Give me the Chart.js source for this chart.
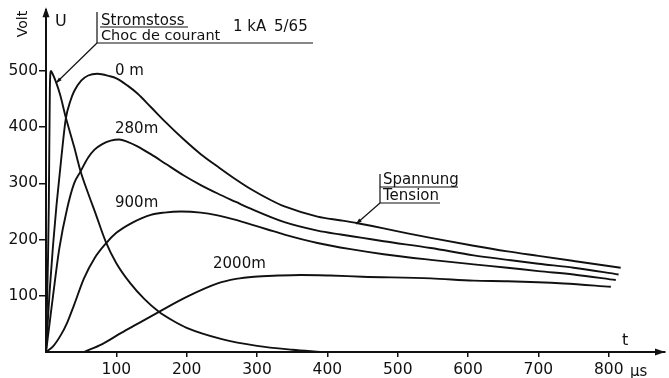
<!DOCTYPE html>
<html lang="de">
<head>
    <meta charset="UTF-8">
    <title>Stromstoss 1 kA 5/65</title>
    <script src="https://cdn.jsdelivr.net/npm/chart.js@4.4.1/dist/chart.umd.min.js"></script>
    <style>
        body {
            margin: 0;
            padding: 0;
            background-color: #ffffff;
        }
        #chartContainer {
            position: relative;
            width: 669px;
            height: 378px;
        }
    </style>
</head>
<body>
    <div id="chartContainer">
        <canvas id="waveChart"></canvas>
    </div>

    <script>
        // Tick values
        const xTickValues = [100, 200, 300, 400, 500, 600, 700, 800];
        const yTickValues = [100, 200, 300, 400, 500];

        // Current impulse (Stromstoss / Choc de courant)
        const currentT = [0, 4, 5.5, 7, 9, 14, 20, 28, 40, 49, 60, 70, 85, 100, 120, 140, 160, 180, 200, 250, 300, 350, 390];
        const currentV = [0, 260, 470, 500, 496, 481, 458, 418, 365, 322, 282, 248, 196, 158, 122, 94, 72, 56, 43, 23, 11, 4, 0];

        // Voltage at 0 m
        const v0T = [0, 5, 10, 15, 22, 28, 35, 40, 50, 60, 73, 90, 100, 116, 130, 149, 170, 196, 220, 244, 270, 291, 320, 339, 386, 420, 443, 480, 514, 547, 608, 656, 700, 750, 817];
        const v0V = [0, 105, 190, 262, 348, 414, 448, 464, 483, 492, 495, 491, 487, 474, 460, 436, 409, 378, 352, 330, 307, 290, 270, 259, 241, 234, 229, 220, 211, 203, 189, 179, 171, 162, 150];

        // Voltage at 280 m
        const v280T = [0, 5, 10, 19, 30, 40, 49, 60, 69, 80, 92, 104, 116, 130, 149, 170, 196, 220, 244, 270, 291, 339, 386, 419, 450, 480, 547, 608, 656, 700, 750, 814];
        const v280V = [0, 50, 100, 185, 255, 300, 321, 346, 360, 370, 376, 378, 374, 366, 352, 335, 314, 297, 282, 267, 255, 231, 216, 209, 203, 197, 185, 172, 164, 157, 150, 138];

        // Voltage at 900 m
        const v900T = [0, 10, 21, 30, 40, 54, 69, 85, 100, 121, 149, 168, 192, 220, 244, 267, 291, 315, 339, 386, 433, 480, 547, 608, 656, 700, 750, 810];
        const v900V = [0, 10, 30, 52, 84, 131, 167, 193, 212, 229, 244, 248, 250, 248, 243, 236, 227, 218, 209, 194, 183, 174, 164, 156, 150, 144, 138, 128];

        // Voltage at 2000 m
        const v2000T = [54, 80, 107, 130, 160, 200, 244, 270, 296, 330, 362, 404, 450, 547, 608, 656, 736, 803];
        const v2000V = [0, 14, 34, 50, 71, 98, 122, 130, 134, 136, 137, 136, 134, 131, 127, 126, 122, 116];

        const FONT = 'DejaVu Sans';

        function toPoints(ts, vs) {
            return ts.map((t, i) => ({ x: t, y: vs[i] }));
        }

        function curve(ts, vs) {
            return {
                data: toPoints(ts, vs),
                borderColor: '#111111',
                borderWidth: 1.9,
                pointRadius: 0,
                fill: false,
                cubicInterpolationMode: 'monotone'
            };
        }

        function arrowHead(ctx, x, y, angle, len, half) {
            ctx.save();
            ctx.translate(x, y);
            ctx.rotate(angle);
            ctx.beginPath();
            ctx.moveTo(0, 0);
            ctx.lineTo(-len, -half);
            ctx.lineTo(-len, half);
            ctx.closePath();
            ctx.fill();
            ctx.restore();
        }

        function leader(ctx, x1, y1, x2, y2) {
            ctx.beginPath();
            ctx.moveTo(x1, y1);
            ctx.lineTo(x2, y2);
            ctx.stroke();
            arrowHead(ctx, x2, y2, Math.atan2(y2 - y1, x2 - x1), 6, 2);
        }

        // Labels, arrows and leader lines around the chart
        const annotations = {
            id: 'annotations',
            afterDraw: (chart) => {
                const ctx = chart.ctx;
                const area = chart.chartArea;
                const xs = chart.scales.x;
                const ys = chart.scales.y;
                const ox = xs.getPixelForValue(0);
                const oy = ys.getPixelForValue(0);

                ctx.save();
                ctx.fillStyle = '#111111';
                ctx.strokeStyle = '#111111';

                // axis arrows
                arrowHead(ctx, ox, area.top - 3, -Math.PI / 2, 10, 3.5);
                arrowHead(ctx, area.right, oy, 0, 10, 3.5);

                ctx.font = '16px "' + FONT + '"';
                ctx.textBaseline = 'alphabetic';
                ctx.textAlign = 'left';
                ctx.fillText('U', 55, 26);
                ctx.fillText('t', 622, 345);
                ctx.font = '15px "' + FONT + '"';
                ctx.fillText('\u00b5s', 630, 376);

                ctx.save();
                ctx.font = '14px "' + FONT + '"';
                ctx.translate(27, 24);
                ctx.rotate(-Math.PI / 2);
                ctx.textAlign = 'center';
                ctx.fillText('Volt', 0, 0);
                ctx.restore();

                // current impulse label
                ctx.font = '15px "' + FONT + '"';
                ctx.fillText('Stromstoss', 101, 25);
                ctx.font = '14.5px "' + FONT + '"';
                ctx.fillText('Choc de courant', 101, 40);
                ctx.font = '15px "' + FONT + '"';
                ctx.fillText('1 kA', 233, 31);
                ctx.fillText('5/65', 274, 31);
                ctx.lineWidth = 1.2;
                ctx.beginPath();
                ctx.moveTo(97, 12);
                ctx.lineTo(97, 43);
                ctx.lineTo(313, 43);
                ctx.moveTo(100, 27);
                ctx.lineTo(188, 27);
                ctx.stroke();
                leader(ctx, 97, 43, 56, 83);

                // distance labels
                ctx.fillText('0 m', 115, 75);
                ctx.fillText('280m', 115, 133);
                ctx.fillText('900m', 115, 207);
                ctx.fillText('2000m', 213, 268);

                // voltage label
                ctx.fillText('Spannung', 383, 184);
                ctx.fillText('Tension', 383, 200);
                ctx.beginPath();
                ctx.moveTo(380, 174);
                ctx.lineTo(380, 203);
                ctx.lineTo(440, 203);
                ctx.moveTo(380, 187);
                ctx.lineTo(458, 187);
                ctx.stroke();
                leader(ctx, 380, 203, 356, 224);

                ctx.restore();
            }
        };

        const config = {
            type: 'line',
            data: {
                datasets: [
                    curve(currentT, currentV),
                    curve(v0T, v0V),
                    curve(v280T, v280V),
                    curve(v900T, v900V),
                    curve(v2000T, v2000V)
                ]
            },
            options: {
                responsive: true,
                maintainAspectRatio: false,
                animation: false,
                layout: {
                    padding: { top: 10, right: 4, left: 0, bottom: 0 }
                },
                plugins: {
                    legend: { display: false },
                    tooltip: { enabled: false }
                },
                scales: {
                    x: {
                        type: 'linear',
                        min: 0,
                        max: 880,
                        afterBuildTicks: (scale) => {
                            scale.ticks = xTickValues.map(v => ({ value: v }));
                        },
                        afterFit: (scale) => {
                            scale.height = 26;
                        },
                        ticks: {
                            color: '#111111',
                            maxRotation: 0,
                            padding: 4,
                            font: { family: FONT, size: 15.5 }
                        },
                        grid: {
                            drawOnChartArea: false,
                            drawTicks: true,
                            tickLength: 5,
                            color: '#111111',
                            lineWidth: 1.5
                        },
                        border: { display: true, color: '#111111', width: 2 }
                    },
                    y: {
                        type: 'linear',
                        min: 0,
                        max: 608,
                        afterBuildTicks: (scale) => {
                            scale.ticks = yTickValues.map(v => ({ value: v }));
                        },
                        afterFit: (scale) => {
                            scale.width = 46;
                        },
                        ticks: {
                            color: '#111111',
                            padding: 1,
                            font: { family: FONT, size: 15.5 }
                        },
                        grid: {
                            drawOnChartArea: false,
                            drawTicks: true,
                            tickLength: 7,
                            color: '#111111',
                            lineWidth: 1.5
                        },
                        border: { display: true, color: '#111111', width: 2 }
                    }
                }
            },
            plugins: [annotations]
        };

        new Chart(document.getElementById('waveChart').getContext('2d'), config);
    </script>
</body>
</html>
